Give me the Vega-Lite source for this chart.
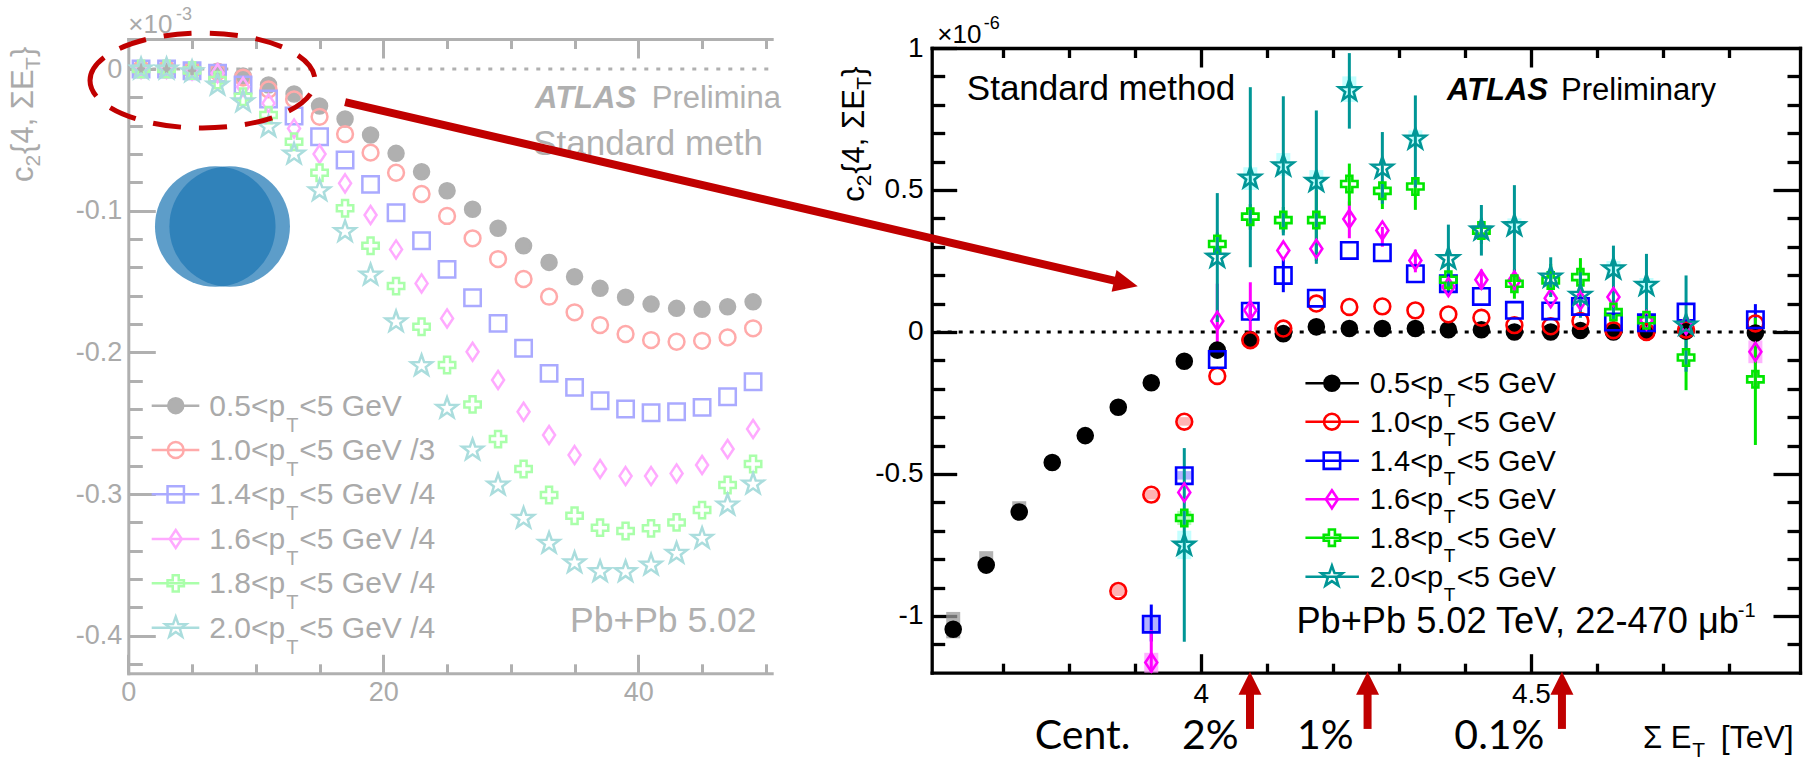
{
"$schema": "https://vega.github.io/schema/vega-lite/v6.json",
"width": 1813, "height": 760,
"autosize": {"type": "none"},
"padding": 0,
"background": "white",
"config": {
  "view": {"stroke": null},
  "axis": {"grid": false, "labelFlush": false, "labelOverlap": false, "labelFont": "Liberation Sans", "domainCap": "square"},
  "text": {"font": "Liberation Sans"}
},
"datasets": {
  "lp": [
    {"x":1,"s":"0.5","v":0},{"x":3,"s":"0.5","v":0},{"x":5,"s":"0.5","v":-0.0005},{"x":7,"s":"0.5","v":-0.0015},{"x":9,"s":"0.5","v":-0.0049},{"x":11,"s":"0.5","v":-0.0113},{"x":13,"s":"0.5","v":-0.0176},{"x":15,"s":"0.5","v":-0.0261},{"x":17,"s":"0.5","v":-0.0353},{"x":19,"s":"0.5","v":-0.0466},{"x":21,"s":"0.5","v":-0.0595},{"x":23,"s":"0.5","v":-0.0725},{"x":25,"s":"0.5","v":-0.0859},{"x":27,"s":"0.5","v":-0.099},{"x":29,"s":"0.5","v":-0.1124},{"x":31,"s":"0.5","v":-0.1248},{"x":33,"s":"0.5","v":-0.1365},{"x":35,"s":"0.5","v":-0.1466},{"x":37,"s":"0.5","v":-0.1548},{"x":39,"s":"0.5","v":-0.1611},{"x":41,"s":"0.5","v":-0.1659},{"x":43,"s":"0.5","v":-0.1689},{"x":45,"s":"0.5","v":-0.1696},{"x":47,"s":"0.5","v":-0.1678},{"x":49,"s":"0.5","v":-0.1643},
    {"x":1,"s":"1.0","v":0},{"x":3,"s":"1.0","v":0},{"x":5,"s":"1.0","v":-0.0005},{"x":7,"s":"1.0","v":-0.002},{"x":9,"s":"1.0","v":-0.006},{"x":11,"s":"1.0","v":-0.0144},{"x":13,"s":"1.0","v":-0.0214},{"x":15,"s":"1.0","v":-0.0337},{"x":17,"s":"1.0","v":-0.0459},{"x":19,"s":"1.0","v":-0.059},{"x":21,"s":"1.0","v":-0.0732},{"x":23,"s":"1.0","v":-0.0882},{"x":25,"s":"1.0","v":-0.1037},{"x":27,"s":"1.0","v":-0.1195},{"x":29,"s":"1.0","v":-0.1341},{"x":31,"s":"1.0","v":-0.1482},{"x":33,"s":"1.0","v":-0.1607},{"x":35,"s":"1.0","v":-0.1717},{"x":37,"s":"1.0","v":-0.1807},{"x":39,"s":"1.0","v":-0.187},{"x":41,"s":"1.0","v":-0.1913},{"x":43,"s":"1.0","v":-0.1925},{"x":45,"s":"1.0","v":-0.1918},{"x":47,"s":"1.0","v":-0.1894},{"x":49,"s":"1.0","v":-0.183},
    {"x":1,"s":"1.4","v":0},{"x":3,"s":"1.4","v":0},{"x":5,"s":"1.4","v":-0.0012},{"x":7,"s":"1.4","v":-0.003},{"x":9,"s":"1.4","v":-0.0113},{"x":11,"s":"1.4","v":-0.0212},{"x":13,"s":"1.4","v":-0.0332},{"x":15,"s":"1.4","v":-0.0478},{"x":17,"s":"1.4","v":-0.0642},{"x":19,"s":"1.4","v":-0.0814},{"x":21,"s":"1.4","v":-0.1014},{"x":23,"s":"1.4","v":-0.1212},{"x":25,"s":"1.4","v":-0.1414},{"x":27,"s":"1.4","v":-0.1614},{"x":29,"s":"1.4","v":-0.1795},{"x":31,"s":"1.4","v":-0.1971},{"x":33,"s":"1.4","v":-0.2148},{"x":35,"s":"1.4","v":-0.2247},{"x":37,"s":"1.4","v":-0.2341},{"x":39,"s":"1.4","v":-0.24},{"x":41,"s":"1.4","v":-0.2426},{"x":43,"s":"1.4","v":-0.2419},{"x":45,"s":"1.4","v":-0.2388},{"x":47,"s":"1.4","v":-0.2313},{"x":49,"s":"1.4","v":-0.2207},
    {"x":1,"s":"1.6","v":0},{"x":3,"s":"1.6","v":0},{"x":5,"s":"1.6","v":-0.001},{"x":7,"s":"1.6","v":-0.003},{"x":9,"s":"1.6","v":-0.0125},{"x":11,"s":"1.6","v":-0.0242},{"x":13,"s":"1.6","v":-0.0419},{"x":15,"s":"1.6","v":-0.06},{"x":17,"s":"1.6","v":-0.0807},{"x":19,"s":"1.6","v":-0.103},{"x":21,"s":"1.6","v":-0.1273},{"x":23,"s":"1.6","v":-0.1513},{"x":25,"s":"1.6","v":-0.176},{"x":27,"s":"1.6","v":-0.1995},{"x":29,"s":"1.6","v":-0.2195},{"x":31,"s":"1.6","v":-0.2419},{"x":33,"s":"1.6","v":-0.2583},{"x":35,"s":"1.6","v":-0.2725},{"x":37,"s":"1.6","v":-0.2823},{"x":39,"s":"1.6","v":-0.2873},{"x":41,"s":"1.6","v":-0.2873},{"x":43,"s":"1.6","v":-0.2854},{"x":45,"s":"1.6","v":-0.2795},{"x":47,"s":"1.6","v":-0.2682},{"x":49,"s":"1.6","v":-0.2541},
    {"x":1,"s":"1.8","v":0},{"x":3,"s":"1.8","v":0},{"x":5,"s":"1.8","v":-0.001},{"x":7,"s":"1.8","v":-0.0078},{"x":9,"s":"1.8","v":-0.0196},{"x":11,"s":"1.8","v":-0.0325},{"x":13,"s":"1.8","v":-0.0513},{"x":15,"s":"1.8","v":-0.0732},{"x":17,"s":"1.8","v":-0.0983},{"x":19,"s":"1.8","v":-0.1247},{"x":21,"s":"1.8","v":-0.1532},{"x":23,"s":"1.8","v":-0.1819},{"x":25,"s":"1.8","v":-0.2089},{"x":27,"s":"1.8","v":-0.2367},{"x":29,"s":"1.8","v":-0.2612},{"x":31,"s":"1.8","v":-0.2823},{"x":33,"s":"1.8","v":-0.3007},{"x":35,"s":"1.8","v":-0.3153},{"x":37,"s":"1.8","v":-0.3237},{"x":39,"s":"1.8","v":-0.3261},{"x":41,"s":"1.8","v":-0.3242},{"x":43,"s":"1.8","v":-0.32},{"x":45,"s":"1.8","v":-0.3113},{"x":47,"s":"1.8","v":-0.2936},{"x":49,"s":"1.8","v":-0.2788},
    {"x":1,"s":"2.0","v":0},{"x":3,"s":"2.0","v":0},{"x":5,"s":"2.0","v":-0.002},{"x":7,"s":"2.0","v":-0.0113},{"x":9,"s":"2.0","v":-0.0231},{"x":11,"s":"2.0","v":-0.0407},{"x":13,"s":"2.0","v":-0.06},{"x":15,"s":"2.0","v":-0.0859},{"x":17,"s":"2.0","v":-0.1148},{"x":19,"s":"2.0","v":-0.1454},{"x":21,"s":"2.0","v":-0.1784},{"x":23,"s":"2.0","v":-0.2094},{"x":25,"s":"2.0","v":-0.2395},{"x":27,"s":"2.0","v":-0.2689},{"x":29,"s":"2.0","v":-0.2936},{"x":31,"s":"2.0","v":-0.3171},{"x":33,"s":"2.0","v":-0.3348},{"x":35,"s":"2.0","v":-0.3485},{"x":37,"s":"2.0","v":-0.3548},{"x":39,"s":"2.0","v":-0.3548},{"x":41,"s":"2.0","v":-0.3501},{"x":43,"s":"2.0","v":-0.3418},{"x":45,"s":"2.0","v":-0.3313},{"x":47,"s":"2.0","v":-0.3077},{"x":49,"s":"2.0","v":-0.2929}
  ],
  "rp": [
    {"e":3.625,"s":"0.5","v":-1.047},{"e":3.675,"s":"0.5","v":-0.821},{"e":3.725,"s":"0.5","v":-0.634},{"e":3.775,"s":"0.5","v":-0.46},{"e":3.825,"s":"0.5","v":-0.365},{"e":3.875,"s":"0.5","v":-0.265},{"e":3.925,"s":"0.5","v":-0.179},{"e":3.975,"s":"0.5","v":-0.103},{"e":4.025,"s":"0.5","v":-0.064},{"e":4.075,"s":"0.5","v":-0.027},{"e":4.125,"s":"0.5","v":-0.006},{"e":4.175,"s":"0.5","v":0.018},{"e":4.225,"s":"0.5","v":0.012},{"e":4.275,"s":"0.5","v":0.012},{"e":4.325,"s":"0.5","v":0.012},{"e":4.375,"s":"0.5","v":0.008},{"e":4.425,"s":"0.5","v":0.008},{"e":4.475,"s":"0.5","v":0.0},{"e":4.53,"s":"0.5","v":0.0},{"e":4.575,"s":"0.5","v":0.005},{"e":4.625,"s":"0.5","v":0.0},{"e":4.675,"s":"0.5","v":0.0},{"e":4.735,"s":"0.5","v":0.003},{"e":4.84,"s":"0.5","v":-0.004},
    {"e":3.875,"s":"1.0","v":-0.912},{"e":3.925,"s":"1.0","v":-0.573},{"e":3.975,"s":"1.0","v":-0.316},{"e":4.025,"s":"1.0","v":-0.155},{"e":4.075,"s":"1.0","v":-0.029},{"e":4.125,"s":"1.0","v":0.012},{"e":4.175,"s":"1.0","v":0.1},{"e":4.225,"s":"1.0","v":0.088},{"e":4.275,"s":"1.0","v":0.09},{"e":4.325,"s":"1.0","v":0.076},{"e":4.375,"s":"1.0","v":0.062},{"e":4.425,"s":"1.0","v":0.05},{"e":4.475,"s":"1.0","v":0.024},{"e":4.53,"s":"1.0","v":0.02},{"e":4.575,"s":"1.0","v":0.039},{"e":4.625,"s":"1.0","v":0.006},{"e":4.675,"s":"1.0","v":0.0},{"e":4.735,"s":"1.0","v":0.008},{"e":4.84,"s":"1.0","v":0.03},
    {"e":3.925,"s":"1.4","v":-1.029},{"e":3.975,"s":"1.4","v":-0.506},{"e":4.025,"s":"1.4","v":-0.097},{"e":4.075,"s":"1.4","v":0.073},{"e":4.125,"s":"1.4","v":0.199},{"e":4.175,"s":"1.4","v":0.119},{"e":4.225,"s":"1.4","v":0.287},{"e":4.275,"s":"1.4","v":0.279},{"e":4.325,"s":"1.4","v":0.205},{"e":4.375,"s":"1.4","v":0.17},{"e":4.425,"s":"1.4","v":0.125},{"e":4.475,"s":"1.4","v":0.076},{"e":4.53,"s":"1.4","v":0.074},{"e":4.575,"s":"1.4","v":0.09},{"e":4.625,"s":"1.4","v":0.035},{"e":4.675,"s":"1.4","v":0.032},{"e":4.735,"s":"1.4","v":0.07},{"e":4.84,"s":"1.4","v":0.043},
    {"e":3.925,"s":"1.6","v":-1.164},{"e":3.975,"s":"1.6","v":-0.565},{"e":4.025,"s":"1.6","v":0.039},{"e":4.075,"s":"1.6","v":0.076},{"e":4.125,"s":"1.6","v":0.287},{"e":4.175,"s":"1.6","v":0.293},{"e":4.225,"s":"1.6","v":0.398},{"e":4.275,"s":"1.6","v":0.357},{"e":4.325,"s":"1.6","v":0.252},{"e":4.375,"s":"1.6","v":0.158},{"e":4.425,"s":"1.6","v":0.184},{"e":4.475,"s":"1.6","v":0.181},{"e":4.53,"s":"1.6","v":0.119},{"e":4.575,"s":"1.6","v":0.111},{"e":4.625,"s":"1.6","v":0.123},{"e":4.675,"s":"1.6","v":0.041},{"e":4.735,"s":"1.6","v":0.024},{"e":4.84,"s":"1.6","v":-0.07},
    {"e":3.975,"s":"1.8","v":-0.655},{"e":4.025,"s":"1.8","v":0.31},{"e":4.075,"s":"1.8","v":0.406},{"e":4.125,"s":"1.8","v":0.394},{"e":4.175,"s":"1.8","v":0.394},{"e":4.225,"s":"1.8","v":0.521},{"e":4.275,"s":"1.8","v":0.497},{"e":4.325,"s":"1.8","v":0.512},{"e":4.375,"s":"1.8","v":0.184},{"e":4.425,"s":"1.8","v":0.357},{"e":4.475,"s":"1.8","v":0.17},{"e":4.53,"s":"1.8","v":0.181},{"e":4.575,"s":"1.8","v":0.193},{"e":4.625,"s":"1.8","v":0.07},{"e":4.675,"s":"1.8","v":0.041},{"e":4.735,"s":"1.8","v":-0.09},{"e":4.84,"s":"1.8","v":-0.167},
    {"e":3.975,"s":"2.0","v":-0.751},{"e":4.025,"s":"2.0","v":0.263},{"e":4.075,"s":"2.0","v":0.542},{"e":4.125,"s":"2.0","v":0.585},{"e":4.175,"s":"2.0","v":0.53},{"e":4.225,"s":"2.0","v":0.85},{"e":4.275,"s":"2.0","v":0.577},{"e":4.325,"s":"2.0","v":0.679},{"e":4.375,"s":"2.0","v":0.258},{"e":4.425,"s":"2.0","v":0.359},{"e":4.475,"s":"2.0","v":0.374},{"e":4.53,"s":"2.0","v":0.193},{"e":4.575,"s":"2.0","v":0.129},{"e":4.625,"s":"2.0","v":0.222},{"e":4.675,"s":"2.0","v":0.164},{"e":4.735,"s":"2.0","v":0.024}
  ],
  "re": [
    {"e":3.925,"s":"1.4","lo":-1.09,"hi":-0.96},{"e":4.075,"s":"1.4","lo":0.04,"hi":0.1},{"e":4.125,"s":"1.4","lo":0.14,"hi":0.26},{"e":4.84,"s":"1.4","lo":-0.02,"hi":0.098},
    {"e":3.925,"s":"1.6","lo":-1.2,"hi":-1.05},{"e":4.025,"s":"1.6","lo":-0.082,"hi":0.17},{"e":4.075,"s":"1.6","lo":-0.018,"hi":0.175},{"e":4.225,"s":"1.6","lo":0.33,"hi":0.46},{"e":4.275,"s":"1.6","lo":0.3,"hi":0.37},{"e":4.325,"s":"1.6","lo":0.21,"hi":0.29},{"e":4.375,"s":"1.6","lo":0.13,"hi":0.2},{"e":4.425,"s":"1.6","lo":0.15,"hi":0.22},{"e":4.84,"s":"1.6","lo":-0.2,"hi":0.05},
    {"e":4.025,"s":"1.8","lo":0.27,"hi":0.35},{"e":4.075,"s":"1.8","lo":0.36,"hi":0.45},{"e":4.125,"s":"1.8","lo":0.35,"hi":0.44},{"e":4.175,"s":"1.8","lo":0.25,"hi":0.5},{"e":4.225,"s":"1.8","lo":0.445,"hi":0.593},{"e":4.275,"s":"1.8","lo":0.433,"hi":0.526},{"e":4.325,"s":"1.8","lo":0.43,"hi":0.544},{"e":4.375,"s":"1.8","lo":0.13,"hi":0.24},{"e":4.425,"s":"1.8","lo":0.31,"hi":0.4},{"e":4.475,"s":"1.8","lo":0.117,"hi":0.222},{"e":4.53,"s":"1.8","lo":0.13,"hi":0.24},{"e":4.575,"s":"1.8","lo":0.13,"hi":0.26},{"e":4.625,"s":"1.8","lo":0.01,"hi":0.11},{"e":4.675,"s":"1.8","lo":-0.01,"hi":0.07},{"e":4.735,"s":"1.8","lo":-0.205,"hi":0.02},{"e":4.84,"s":"1.8","lo":-0.398,"hi":0.05},
    {"e":3.975,"s":"2.0","lo":-1.091,"hi":-0.409},{"e":4.025,"s":"2.0","lo":0.035,"hi":0.489},{"e":4.075,"s":"2.0","lo":0.228,"hi":0.862},{"e":4.125,"s":"2.0","lo":0.34,"hi":0.83},{"e":4.175,"s":"2.0","lo":0.24,"hi":0.78},{"e":4.225,"s":"2.0","lo":0.716,"hi":0.982},{"e":4.275,"s":"2.0","lo":0.451,"hi":0.704},{"e":4.325,"s":"2.0","lo":0.509,"hi":0.833},{"e":4.375,"s":"2.0","lo":0.158,"hi":0.378},{"e":4.425,"s":"2.0","lo":0.269,"hi":0.447},{"e":4.475,"s":"2.0","lo":0.193,"hi":0.517},{"e":4.53,"s":"2.0","lo":0.123,"hi":0.263},{"e":4.575,"s":"2.0","lo":0.05,"hi":0.21},{"e":4.625,"s":"2.0","lo":0.012,"hi":0.304},{"e":4.675,"s":"2.0","lo":-0.006,"hi":0.275},{"e":4.735,"s":"2.0","lo":-0.14,"hi":0.199}
  ],
  "rs": [
    {"e":3.625,"s":"0.5","lo":-1.079,"hi":-0.986},{"e":3.675,"s":"0.5","lo":-0.835,"hi":-0.772},{"e":3.725,"s":"0.5","lo":-0.649,"hi":-0.596},
    {"e":3.875,"s":"1.0","lo":-0.93,"hi":-0.89},{"e":3.925,"s":"1.0","lo":-0.59,"hi":-0.555},{"e":3.975,"s":"1.0","lo":-0.33,"hi":-0.3},
    {"e":3.925,"s":"1.4","lo":-1.06,"hi":-1.0},{"e":3.975,"s":"1.4","lo":-0.52,"hi":-0.49},
    {"e":3.925,"s":"1.6","lo":-1.2,"hi":-1.13},{"e":4.84,"s":"1.6","lo":-0.11,"hi":-0.03},
    {"e":3.975,"s":"1.8","lo":-0.68,"hi":-0.63},
    {"e":3.975,"s":"2.0","lo":-0.8,"hi":-0.7},{"e":4.075,"s":"2.0","lo":0.5,"hi":0.58},{"e":4.125,"s":"2.0","lo":0.55,"hi":0.63},{"e":4.175,"s":"2.0","lo":0.5,"hi":0.57},{"e":4.225,"s":"2.0","lo":0.81,"hi":0.9},{"e":4.325,"s":"2.0","lo":0.65,"hi":0.71},{"e":4.475,"s":"2.0","lo":0.35,"hi":0.4},{"e":4.625,"s":"2.0","lo":0.2,"hi":0.25},{"e":4.675,"s":"2.0","lo":0.14,"hi":0.19}
  ],
  "leg": [
    {"s":"0.5","t1":"0.5<p","tl":"<5 GeV","tr":"<5 GeV","yl":-0.2376,"yr":-0.1808},
    {"s":"1.0","t1":"1.0<p","tl":"<5 GeV /3","tr":"<5 GeV","yl":-0.2689,"yr":-0.316},
    {"s":"1.4","t1":"1.4<p","tl":"<5 GeV /4","tr":"<5 GeV","yl":-0.3002,"yr":-0.4534},
    {"s":"1.6","t1":"1.6<p","tl":"<5 GeV /4","tr":"<5 GeV","yl":-0.3317,"yr":-0.5893},
    {"s":"1.8","t1":"1.8<p","tl":"<5 GeV /4","tr":"<5 GeV","yl":-0.363,"yr":-0.7246},
    {"s":"2.0","t1":"2.0<p","tl":"<5 GeV /4","tr":"<5 GeV","yl":-0.3943,"yr":-0.8619}
  ],
  "cent": [{"e":4.0745},{"e":4.2526},{"e":4.547}],
  "centlab": [{"e":3.821,"t":"Cent."},{"e":4.0144,"t":"2%"},{"e":4.1885,"t":"1%"},{"e":4.4523,"t":"0.1%"}]
},
"resolve": {
  "scale": {"x": "independent", "y": "independent", "color": "independent", "fill": "independent", "stroke": "independent", "shape": "independent"},
  "axis": {"x": "independent", "y": "independent"}
},
"layer": [
{
  "resolve": {"axis": {"x": "independent", "y": "independent"}},
  "layer": [
    {"data": {"values": [{}]},
     "mark": {"type": "rule", "strokeDash": [4, 8], "strokeWidth": 3, "color": "#b0b0b0"},
     "encoding": {"x": {"datum": 0, "type": "quantitative", "axis": null}, "x2": {"datum": 50.46}, "y": {"datum": 0, "type": "quantitative", "axis": null}}},
    {"data": {"values": [{}]},
     "mark": {"type": "point", "shape": "circle", "filled": true, "size": 14544, "color": "#1f77b4", "opacity": 0.72, "strokeWidth": 0},
     "encoding": {"x": {"datum": 6.82, "type": "quantitative", "axis": null}, "y": {"datum": -0.1111, "type": "quantitative", "axis": null}}},
    {"data": {"values": [{}]},
     "mark": {"type": "point", "shape": "circle", "filled": true, "size": 14544, "color": "#1f77b4", "opacity": 0.72, "strokeWidth": 0},
     "encoding": {"x": {"datum": 7.95, "type": "quantitative", "axis": null}, "y": {"datum": -0.1111, "type": "quantitative", "axis": null}}},
    {"data": {"name": "lp"},
     "mark": {"type": "point", "filled": true, "size": 400, "strokeWidth": 2.5, "opacity": 1},
     "encoding": {
       "x": {"field": "x", "type": "quantitative",
             "scale": {"domain": [0, 50.46], "range": [128.3, 771.7], "nice": false, "zero": false},
             "axis": {"orient": "bottom", "offset": -86.7, "values": [0,5,10,15,20,25,30,35,40,45,50], "title": null,
                      "domainColor": "#b0b0b0", "domainWidth": 3, "tickColor": "#b0b0b0", "tickWidth": 3,
                      "tickSize": {"condition": {"test": "datum.value % 20 === 0", "value": -19}, "value": -9.5},
                      "labelExpr": "datum.value % 20 === 0 ? datum.label : ''",
                      "labelColor": "#aaaaaa", "labelFontSize": 27, "labelPadding": 25}},
       "y": {"field": "v", "type": "quantitative",
             "scale": {"domain": [-0.4265, 0.0212], "range": [673.3, 39], "nice": false, "zero": false},
             "axis": {"orient": "left", "offset": -128.3, "values": [0,-0.02,-0.04,-0.06,-0.08,-0.1,-0.12,-0.14,-0.16,-0.18,-0.2,-0.22,-0.24,-0.26,-0.28,-0.3,-0.32,-0.34,-0.36,-0.38,-0.4,-0.42], "title": null,
                      "domainColor": "#b0b0b0", "domainWidth": 3, "tickColor": "#b0b0b0", "tickWidth": 3,
                      "tickSize": {"condition": {"test": "abs(datum.value*10-round(datum.value*10))<1e-6", "value": -27}, "value": -14},
                      "format": "~g",
                      "labelExpr": "abs(datum.value*10-round(datum.value*10))<1e-6 ? replace(datum.label,'−','-') : ''",
                      "labelColor": "#aaaaaa", "labelFontSize": 27, "labelPadding": 33.6}},
       "shape": {"field": "s", "type": "nominal", "legend": null, "scale": {"domain": ["0.5","1.0","1.4","1.6","1.8","2.0"], "range": ["M0.75,0A0.75,0.75,0,1,1,-0.75,0A0.75,0.75,0,1,1,0.75,0Z","M0.79,0A0.79,0.79,0,1,1,-0.79,0A0.79,0.79,0,1,1,0.79,0Z","M-0.82,-0.82L0.82,-0.82L0.82,0.82L-0.82,0.82Z","M0,-0.9L0.6,0L0,0.9L-0.6,0Z","M-0.3,-0.82L0.3,-0.82L0.3,-0.3L0.82,-0.3L0.82,0.3L0.3,0.3L0.3,0.82L-0.3,0.82L-0.3,0.3L-0.82,0.3L-0.82,-0.3L-0.3,-0.3Z","M0,-1.1L0.26,-0.36L1.05,-0.34L0.42,0.14L0.65,0.89L0,0.44L-0.65,0.89L-0.42,0.14L-1.05,-0.34L-0.26,-0.36Z"]}},
       "fill": {"field": "s", "type": "nominal", "legend": null, "scale": {"domain": ["0.5","1.0","1.4","1.6","1.8","2.0"], "range": ["#b0b0b0","transparent","transparent","transparent","transparent","transparent"]}},
       "stroke": {"field": "s", "type": "nominal", "legend": null, "scale": {"domain": ["0.5","1.0","1.4","1.6","1.8","2.0"], "range": ["#b0b0b0","#ffaaaa","#aaaaff","#ffaaff","#aaffaa","#aadddd"]}}
     }},
    {"data": {"name": "leg"},
     "mark": {"type": "rule", "strokeWidth": 2.5},
     "encoding": {"x": {"datum": 1.835, "type": "quantitative", "axis": null}, "x2": {"datum": 5.57}, "y": {"field": "yl", "type": "quantitative", "axis": null},
                  "stroke": {"field": "s", "type": "nominal", "legend": null}}},
    {"data": {"name": "leg"},
     "mark": {"type": "point", "filled": true, "size": 400, "strokeWidth": 2.5, "opacity": 1},
     "encoding": {"x": {"datum": 3.72, "type": "quantitative",
                        "axis": {"orient": "top", "offset": -39, "values": [5,10,15,20,25,30,35,40,45,50], "title": null, "labels": false,
                                 "domainColor": "#b0b0b0", "domainWidth": 3, "tickColor": "#b0b0b0", "tickWidth": 3,
                                 "tickSize": {"condition": {"test": "datum.value % 20 === 0", "value": -19}, "value": -9.5}}},
                  "y": {"field": "yl", "type": "quantitative", "axis": null},
                  "shape": {"field": "s", "type": "nominal", "legend": null},
                  "fill": {"field": "s", "type": "nominal", "legend": null},
                  "stroke": {"field": "s", "type": "nominal", "legend": null}}},
    {"data": {"name": "leg"},
     "mark": {"type": "text", "align": "left", "baseline": "alphabetic", "fontSize": 30, "dy": 10, "color": "#aaaaaa"},
     "encoding": {"x": {"datum": 6.353, "type": "quantitative", "axis": null}, "y": {"field": "yl", "type": "quantitative", "axis": null}, "text": {"field": "t1"}}},
    {"data": {"name": "leg"},
     "mark": {"type": "text", "text": "T", "align": "left", "baseline": "alphabetic", "fontSize": 20, "dx": 77, "dy": 26, "color": "#aaaaaa"},
     "encoding": {"x": {"datum": 6.353, "type": "quantitative", "axis": null}, "y": {"field": "yl", "type": "quantitative", "axis": null}}},
    {"data": {"name": "leg"},
     "mark": {"type": "text", "align": "left", "baseline": "alphabetic", "fontSize": 30, "dx": 90, "dy": 10, "color": "#aaaaaa"},
     "encoding": {"x": {"datum": 6.353, "type": "quantitative", "axis": null}, "y": {"field": "yl", "type": "quantitative", "axis": null}, "text": {"field": "tl"}}},
    {"data": {"values": [{}]},
     "mark": {"type": "text", "text": "×10", "align": "left", "baseline": "alphabetic", "fontSize": 26, "color": "#aaaaaa"},
     "encoding": {"x": {"datum": 0, "type": "quantitative", "axis": null}, "y": {"datum": 0.0252, "type": "quantitative", "axis": null}}},
    {"data": {"values": [{}]},
     "mark": {"type": "text", "text": "-3", "align": "left", "baseline": "alphabetic", "fontSize": 18, "color": "#aaaaaa"},
     "encoding": {"x": {"datum": 3.74, "type": "quantitative", "axis": null}, "y": {"datum": 0.0346, "type": "quantitative", "axis": null}}},
    {"data": {"values": [{}]},
     "mark": {"type": "text", "text": "ATLAS", "align": "left", "baseline": "alphabetic", "fontSize": 31, "fontWeight": "bold", "fontStyle": "italic", "color": "#b0b0b0"},
     "encoding": {"x": {"datum": 31.9, "type": "quantitative", "axis": null}, "y": {"datum": -0.0277, "type": "quantitative", "axis": null}}},
    {"data": {"values": [{}]},
     "mark": {"type": "text", "text": "Preliminary", "align": "left", "baseline": "alphabetic", "fontSize": 31, "color": "#b0b0b0", "limit": 130, "ellipsis": "\u200b"},
     "encoding": {"x": {"datum": 41.05, "type": "quantitative", "axis": null}, "y": {"datum": -0.0277, "type": "quantitative", "axis": null}}},
    {"data": {"values": [{}]},
     "mark": {"type": "text", "text": "Standard method", "align": "left", "baseline": "alphabetic", "fontSize": 35, "color": "#b0b0b0", "limit": 238, "ellipsis": "\u200b"},
     "encoding": {"x": {"datum": 31.76, "type": "quantitative", "axis": null}, "y": {"datum": -0.0607, "type": "quantitative", "axis": null}}},
    {"data": {"values": [{}]},
     "mark": {"type": "text", "text": "Pb+Pb 5.02 TeV, 22-470 μb", "align": "left", "baseline": "alphabetic", "fontSize": 35.5, "color": "#b0b0b0", "limit": 202, "ellipsis": "\u200b"},
     "encoding": {"x": {"datum": 34.64, "type": "quantitative", "axis": null}, "y": {"datum": -0.3971, "type": "quantitative", "axis": null}}},
    {"data": {"values": [{}]},
     "mark": {"type": "text", "text": "c", "angle": 270, "align": "left", "baseline": "alphabetic", "fontSize": 31, "color": "#aaaaaa"},
     "encoding": {"x": {"datum": -7.45, "type": "quantitative", "axis": null}, "y": {"datum": -0.0797, "type": "quantitative", "axis": null}}},
    {"data": {"values": [{}]},
     "mark": {"type": "text", "text": "2", "angle": 270, "align": "left", "baseline": "alphabetic", "fontSize": 21, "dx": 15.5, "dy": 7, "color": "#aaaaaa"},
     "encoding": {"x": {"datum": -7.45, "type": "quantitative", "axis": null}, "y": {"datum": -0.0797, "type": "quantitative", "axis": null}}},
    {"data": {"values": [{}]},
     "mark": {"type": "text", "text": "{4, ΣE", "angle": 270, "align": "left", "baseline": "alphabetic", "fontSize": 31, "dx": 28, "color": "#aaaaaa"},
     "encoding": {"x": {"datum": -7.45, "type": "quantitative", "axis": null}, "y": {"datum": -0.0797, "type": "quantitative", "axis": null}}},
    {"data": {"values": [{}]},
     "mark": {"type": "text", "text": "T", "angle": 270, "align": "left", "baseline": "alphabetic", "fontSize": 21, "dx": 112, "dy": 7, "color": "#aaaaaa"},
     "encoding": {"x": {"datum": -7.45, "type": "quantitative", "axis": null}, "y": {"datum": -0.0797, "type": "quantitative", "axis": null}}},
    {"data": {"values": [{}]},
     "mark": {"type": "text", "text": "}", "angle": 270, "align": "left", "baseline": "alphabetic", "fontSize": 31, "dx": 125, "color": "#aaaaaa"},
     "encoding": {"x": {"datum": -7.45, "type": "quantitative", "axis": null}, "y": {"datum": -0.0797, "type": "quantitative", "axis": null}}},
    {"data": {"values": [{}]},
     "mark": {"type": "point", "shape": "M-1,0A1,0.422,0,1,1,1,0A1,0.422,0,1,1,-1,0Z", "size": 50625, "filled": false, "stroke": "#c00000", "strokeWidth": 5, "strokeDash": [28, 18], "fill": "transparent", "opacity": 1},
     "encoding": {"x": {"datum": 5.82, "type": "quantitative", "axis": null}, "y": {"datum": -0.0081, "type": "quantitative", "axis": null}}},
    {"data": {"values": [{}]},
     "mark": {"type": "rule", "color": "#c00000", "strokeWidth": 8, "strokeCap": "butt"},
     "encoding": {"x": {"datum": 17.0, "type": "quantitative", "axis": null}, "y": {"datum": -0.0233, "type": "quantitative", "axis": null}, "x2": {"datum": 78.08}, "y2": {"datum": -0.151}}},
    {"data": {"values": [{}]},
     "mark": {"type": "point", "shape": "M1,0L-1,-0.92L-1,0.92Z", "size": 590, "angle": 12.75, "filled": true, "color": "#c00000", "strokeWidth": 0, "opacity": 1},
     "encoding": {"x": {"datum": 78.24, "type": "quantitative", "axis": null}, "y": {"datum": -0.1514, "type": "quantitative", "axis": null}}}
  ]
},
{
  "resolve": {"axis": {"x": "independent", "y": "independent"}},
  "layer": [
    {"data": {"name": "rs"},
     "mark": {"type": "bar", "width": 14, "opacity": 0.75},
     "encoding": {"x": {"field": "e", "type": "quantitative", "axis": null}, "y": {"field": "lo", "type": "quantitative", "axis": null}, "y2": {"field": "hi"},
                  "color": {"field": "s", "type": "nominal", "legend": null, "scale": {"domain": ["0.5","1.0","1.4","1.6","1.8","2.0"], "range": ["#9a9a9a","#ff9a9a","#9a9aff","#ff99ff","#99ff99","#b0ffff"]}}}},
    {"data": {"name": "re"},
     "mark": {"type": "rule", "strokeWidth": 3},
     "encoding": {"x": {"field": "e", "type": "quantitative",
                        "axis": {"orient": "top", "offset": -48, "values": [3.7,3.8,3.9,4,4.1,4.2,4.3,4.4,4.5,4.6,4.7,4.8], "title": null, "labels": false,
                                 "domainColor": "black", "domainWidth": 3.3, "tickColor": "black", "tickWidth": 3.3,
                                 "tickSize": {"condition": {"test": "abs(datum.value-4)<1e-6 || abs(datum.value-4.5)<1e-6", "value": -19}, "value": -9.5}}},
                  "y": {"field": "lo", "type": "quantitative",
                        "axis": {"orient": "right", "offset": -13, "values": [-1.1,-1,-0.9,-0.8,-0.7,-0.6,-0.5,-0.4,-0.3,-0.2,-0.1,0,0.1,0.2,0.3,0.4,0.5,0.6,0.7,0.8,0.9], "title": null, "labels": false,
                                 "domainColor": "black", "domainWidth": 3.3, "tickColor": "black", "tickWidth": 3.3,
                                 "tickSize": {"condition": {"test": "abs(datum.value*2-round(datum.value*2))<1e-6", "value": -27}, "value": -13}}},
                  "y2": {"field": "hi"},
                  "stroke": {"field": "s", "type": "nominal", "legend": null, "scale": {"domain": ["0.5","1.0","1.4","1.6","1.8","2.0"], "range": ["black","#ff0000","#0000ff","#ff00ff","#00e600","#009696"]}}}},
    {"data": {"values": [{}]},
     "mark": {"type": "rule", "strokeDash": [4, 7], "strokeWidth": 3, "color": "black"},
     "encoding": {"x": {"datum": 3.6, "type": "quantitative", "axis": null}, "x2": {"datum": 4.9}, "y": {"datum": 0, "type": "quantitative", "axis": null}}},
    {"data": {"name": "rp"},
     "mark": {"type": "point", "filled": true, "size": 400, "strokeWidth": 2.6, "opacity": 1},
     "encoding": {
       "x": {"field": "e", "type": "quantitative",
             "scale": {"domain": [3.6, 4.9], "range": [931.7, 1800], "nice": false, "zero": false},
             "axis": {"orient": "bottom", "offset": -87.3, "values": [3.7,3.8,3.9,4,4.1,4.2,4.3,4.4,4.5,4.6,4.7,4.8], "title": null,
                      "domainColor": "black", "domainWidth": 3.3, "tickColor": "black", "tickWidth": 3.3,
                      "tickSize": {"condition": {"test": "abs(datum.value-4)<1e-6 || abs(datum.value-4.5)<1e-6", "value": -19}, "value": -9.5},
                      "labelExpr": "abs(datum.value-4)<1e-6 ? '4' : (abs(datum.value-4.5)<1e-6 ? '4.5' : '')",
                      "labelColor": "black", "labelFontSize": 28, "labelPadding": 26.5}},
       "y": {"field": "v", "type": "quantitative",
             "scale": {"domain": [-1.2, 1], "range": [672.7, 48], "nice": false, "zero": false},
             "axis": {"orient": "left", "offset": -931.7, "values": [-1.1,-1,-0.9,-0.8,-0.7,-0.6,-0.5,-0.4,-0.3,-0.2,-0.1,0,0.1,0.2,0.3,0.4,0.5,0.6,0.7,0.8,0.9,1], "title": null,
                      "domainColor": "black", "domainWidth": 3.3, "tickColor": "black", "tickWidth": 3.3,
                      "tickSize": {"condition": {"test": "abs(datum.value*2-round(datum.value*2))<1e-6", "value": -25}, "value": -13},
                      "format": "~g",
                      "labelExpr": "abs(datum.value*2-round(datum.value*2))<1e-6 ? replace(datum.label,'−','-') : ''",
                      "labelColor": "black", "labelFontSize": 28, "labelPadding": 33.7}},
       "shape": {"field": "s", "type": "nominal", "legend": null, "scale": {"domain": ["0.5","1.0","1.4","1.6","1.8","2.0"], "range": ["M0.75,0A0.75,0.75,0,1,1,-0.75,0A0.75,0.75,0,1,1,0.75,0Z","M0.79,0A0.79,0.79,0,1,1,-0.79,0A0.79,0.79,0,1,1,0.79,0Z","M-0.82,-0.82L0.82,-0.82L0.82,0.82L-0.82,0.82Z","M0,-0.9L0.6,0L0,0.9L-0.6,0Z","M-0.3,-0.82L0.3,-0.82L0.3,-0.3L0.82,-0.3L0.82,0.3L0.3,0.3L0.3,0.82L-0.3,0.82L-0.3,0.3L-0.82,0.3L-0.82,-0.3L-0.3,-0.3Z","M0,-1.1L0.26,-0.36L1.05,-0.34L0.42,0.14L0.65,0.89L0,0.44L-0.65,0.89L-0.42,0.14L-1.05,-0.34L-0.26,-0.36Z"]}},
       "fill": {"field": "s", "type": "nominal", "legend": null, "scale": {"domain": ["0.5","1.0","1.4","1.6","1.8","2.0"], "range": ["black","transparent","transparent","transparent","transparent","transparent"]}},
       "stroke": {"field": "s", "type": "nominal", "legend": null}
     }},
    {"data": {"name": "leg"},
     "mark": {"type": "rule", "strokeWidth": 2.5},
     "encoding": {"x": {"datum": 4.1585, "type": "quantitative", "axis": null}, "x2": {"datum": 4.2395}, "y": {"field": "yr", "type": "quantitative", "axis": null},
                  "stroke": {"field": "s", "type": "nominal", "legend": null}}},
    {"data": {"name": "leg"},
     "mark": {"type": "point", "filled": true, "size": 400, "strokeWidth": 2.6, "opacity": 1},
     "encoding": {"x": {"datum": 4.1986, "type": "quantitative", "axis": null}, "y": {"field": "yr", "type": "quantitative", "axis": null},
                  "shape": {"field": "s", "type": "nominal", "legend": null},
                  "fill": {"field": "s", "type": "nominal", "legend": null},
                  "stroke": {"field": "s", "type": "nominal", "legend": null}}},
    {"data": {"name": "leg"},
     "mark": {"type": "text", "align": "left", "baseline": "alphabetic", "fontSize": 29, "dy": 10, "color": "black"},
     "encoding": {"x": {"datum": 4.256, "type": "quantitative", "axis": null}, "y": {"field": "yr", "type": "quantitative", "axis": null}, "text": {"field": "t1"}}},
    {"data": {"name": "leg"},
     "mark": {"type": "text", "text": "T", "align": "left", "baseline": "alphabetic", "fontSize": 19, "dx": 74, "dy": 24, "color": "black"},
     "encoding": {"x": {"datum": 4.256, "type": "quantitative", "axis": null}, "y": {"field": "yr", "type": "quantitative", "axis": null}}},
    {"data": {"name": "leg"},
     "mark": {"type": "text", "align": "left", "baseline": "alphabetic", "fontSize": 29, "dx": 87, "dy": 10, "color": "black"},
     "encoding": {"x": {"datum": 4.256, "type": "quantitative", "axis": null}, "y": {"field": "yr", "type": "quantitative", "axis": null}, "text": {"field": "tr"}}},
    {"data": {"values": [{}]},
     "mark": {"type": "text", "text": "Standard method", "align": "left", "baseline": "alphabetic", "fontSize": 35, "color": "black"},
     "encoding": {"x": {"datum": 3.6456, "type": "quantitative", "axis": null}, "y": {"datum": 0.817, "type": "quantitative", "axis": null}}},
    {"data": {"values": [{}]},
     "mark": {"type": "text", "text": "ATLAS", "align": "left", "baseline": "alphabetic", "fontSize": 31, "fontWeight": "bold", "fontStyle": "italic", "color": "black"},
     "encoding": {"x": {"datum": 4.3729, "type": "quantitative", "axis": null}, "y": {"datum": 0.817, "type": "quantitative", "axis": null}}},
    {"data": {"values": [{}]},
     "mark": {"type": "text", "text": "Preliminary", "align": "left", "baseline": "alphabetic", "fontSize": 31, "color": "black"},
     "encoding": {"x": {"datum": 4.5457, "type": "quantitative", "axis": null}, "y": {"datum": 0.817, "type": "quantitative", "axis": null}}},
    {"data": {"values": [{}]},
     "mark": {"type": "text", "text": "Pb+Pb 5.02 TeV, 22-470 μb", "align": "left", "baseline": "alphabetic", "fontSize": 36.2, "color": "black"},
     "encoding": {"x": {"datum": 4.1449, "type": "quantitative", "axis": null}, "y": {"datum": -1.0591, "type": "quantitative", "axis": null}}},
    {"data": {"values": [{}]},
     "mark": {"type": "text", "text": "-1", "align": "left", "baseline": "alphabetic", "fontSize": 20, "color": "black"},
     "encoding": {"x": {"datum": 4.8134, "type": "quantitative", "axis": null}, "y": {"datum": -1.0028, "type": "quantitative", "axis": null}}},
    {"data": {"values": [{}]},
     "mark": {"type": "text", "text": "×10", "align": "left", "baseline": "alphabetic", "fontSize": 26, "color": "black"},
     "encoding": {"x": {"datum": 3.601, "type": "quantitative", "axis": null}, "y": {"datum": 1.0166, "type": "quantitative", "axis": null}}},
    {"data": {"values": [{}]},
     "mark": {"type": "text", "text": "-6", "align": "left", "baseline": "alphabetic", "fontSize": 18, "color": "black"},
     "encoding": {"x": {"datum": 3.6711, "type": "quantitative", "axis": null}, "y": {"datum": 1.067, "type": "quantitative", "axis": null}}},
    {"data": {"values": [{}]},
     "mark": {"type": "text", "text": "c", "angle": 270, "align": "left", "baseline": "alphabetic", "fontSize": 31, "color": "black"},
     "encoding": {"x": {"datum": 3.4897, "type": "quantitative", "axis": null}, "y": {"datum": 0.4584, "type": "quantitative", "axis": null}}},
    {"data": {"values": [{}]},
     "mark": {"type": "text", "text": "2", "angle": 270, "align": "left", "baseline": "alphabetic", "fontSize": 21, "dx": 15.5, "dy": 7, "color": "black"},
     "encoding": {"x": {"datum": 3.4897, "type": "quantitative", "axis": null}, "y": {"datum": 0.4584, "type": "quantitative", "axis": null}}},
    {"data": {"values": [{}]},
     "mark": {"type": "text", "text": "{4, ΣE", "angle": 270, "align": "left", "baseline": "alphabetic", "fontSize": 31, "dx": 28, "color": "black"},
     "encoding": {"x": {"datum": 3.4897, "type": "quantitative", "axis": null}, "y": {"datum": 0.4584, "type": "quantitative", "axis": null}}},
    {"data": {"values": [{}]},
     "mark": {"type": "text", "text": "T", "angle": 270, "align": "left", "baseline": "alphabetic", "fontSize": 21, "dx": 112, "dy": 7, "color": "black"},
     "encoding": {"x": {"datum": 3.4897, "type": "quantitative", "axis": null}, "y": {"datum": 0.4584, "type": "quantitative", "axis": null}}},
    {"data": {"values": [{}]},
     "mark": {"type": "text", "text": "}", "angle": 270, "align": "left", "baseline": "alphabetic", "fontSize": 31, "dx": 125, "color": "black"},
     "encoding": {"x": {"datum": 3.4897, "type": "quantitative", "axis": null}, "y": {"datum": 0.4584, "type": "quantitative", "axis": null}}},
    {"data": {"name": "cent"},
     "mark": {"type": "rule", "color": "#c00000", "strokeWidth": 8, "strokeCap": "butt"},
     "encoding": {"x": {"field": "e", "type": "quantitative", "axis": null}, "y": {"datum": -1.26, "type": "quantitative", "axis": null}, "y2": {"datum": -1.398}}},
    {"data": {"name": "cent"},
     "mark": {"type": "point", "shape": "M0,-1L1,1L-1,1Z", "size": 529, "filled": true, "color": "#c00000", "strokeWidth": 0, "opacity": 1},
     "encoding": {"x": {"field": "e", "type": "quantitative", "axis": null}, "y": {"datum": -1.237, "type": "quantitative", "axis": null}}},
    {"data": {"name": "centlab"},
     "mark": {"type": "text", "align": "center", "baseline": "alphabetic", "font": "Lato", "fontSize": 41, "color": "black"},
     "encoding": {"x": {"field": "e", "type": "quantitative", "axis": null}, "y": {"datum": -1.4698, "type": "quantitative", "axis": null}, "text": {"field": "t"}}},
    {"data": {"values": [{}]},
     "mark": {"type": "text", "text": "Σ E", "align": "left", "baseline": "alphabetic", "fontSize": 31, "color": "black"},
     "encoding": {"x": {"datum": 4.6699, "type": "quantitative", "axis": null}, "y": {"datum": -1.4662, "type": "quantitative", "axis": null}}},
    {"data": {"values": [{}]},
     "mark": {"type": "text", "text": "T", "align": "left", "baseline": "alphabetic", "fontSize": 21, "color": "black"},
     "encoding": {"x": {"datum": 4.7445, "type": "quantitative", "axis": null}, "y": {"datum": -1.4985, "type": "quantitative", "axis": null}}},
    {"data": {"values": [{}]},
     "mark": {"type": "text", "text": "[TeV]", "align": "right", "baseline": "alphabetic", "fontSize": 32, "color": "black"},
     "encoding": {"x": {"datum": 4.898, "type": "quantitative", "axis": null}, "y": {"datum": -1.4662, "type": "quantitative", "axis": null}}}
  ]
}
]
}
